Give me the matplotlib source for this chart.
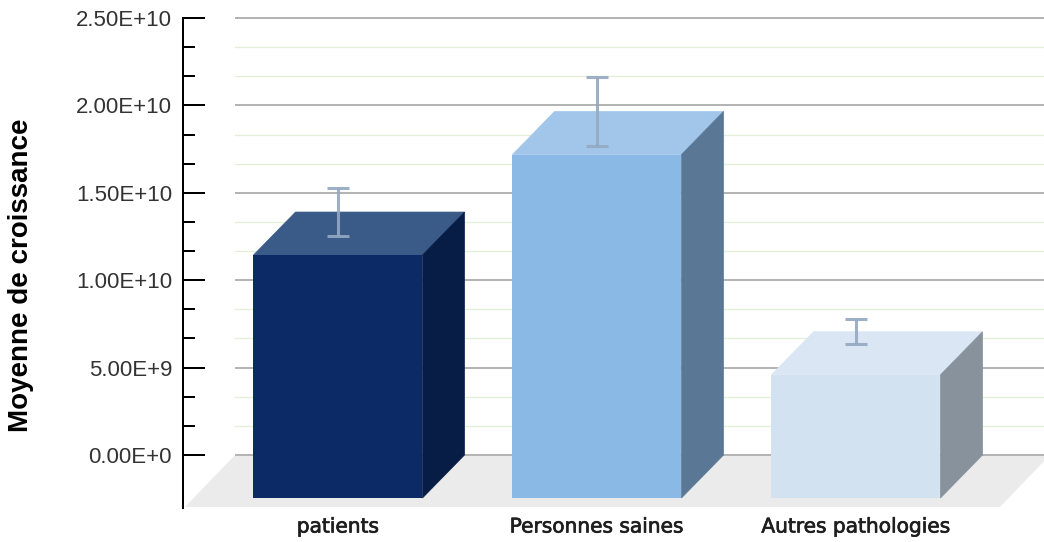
import matplotlib
matplotlib.use("Agg")
import matplotlib.pyplot as plt
import matplotlib.patheffects as pe
import matplotlib.transforms as mtransforms
from matplotlib.patches import Polygon
from matplotlib.ticker import FixedLocator
import numpy as np

plt.rcParams["font.family"] = ["Liberation Sans", "DejaVu Sans"]
plt.rcParams["ytick.labelsize"] = 16

# Mean growth per group, with error bars
categories = ["patients", "Personnes saines", "Autres pathologies"]
means = [1.39e10, 1.965e10, 7.05e9]
errors = [1.39e9, 2.0e9, 7.2e8]

front_colors = ["#0b2a66", "#8ab9e6", "#d3e2f1"]
top_colors = ["#3a5a88", "#a1c6ea", "#dae6f3"]
side_colors = ["#071d45", "#5a7896", "#87929c"]

major_ticks = [0, 5e9, 1e10, 1.5e10, 2e10, 2.5e10]
tick_labels = ["0.00E+0", "5.00E+9", "1.00E+10", "1.50E+10", "2.00E+10", "2.50E+10"]

W, H, DPI = 1044, 542, 100
fig = plt.figure(figsize=(W / DPI, H / DPI), dpi=DPI)
fig.patch.set_facecolor("white")

# Axes covers the back plane of the 3D box
left_px, right_px, top_px, bottom_px = 235, 1044, 10, 508
ax = fig.add_axes([left_px / W, (H - bottom_px) / H,
                   (right_px - left_px) / W, (bottom_px - top_px) / H])
ax.set_facecolor("none")

ymin, ymax = -3.032e9, 2.5458e10
xmin, xmax = -0.5598, 2.5637
ax.set_xlim(xmin, xmax)
ax.set_ylim(ymin, ymax)


def px_to_data(dx_px, dy_px):
    x0, y0 = ax.transData.inverted().transform((0, 0))
    x1, y1 = ax.transData.inverted().transform((dx_px, dy_px))
    return x1 - x0, y1 - y0


# depth of bars and of the floor, in data units
ddx, ddy = px_to_data(42, 43)
fdx, fdy = px_to_data(50, 52)
pad_x, _ = px_to_data(6, 0)

x = np.arange(len(categories))
width = 0.6525

# floor
floor = Polygon([(xmin, 0), (xmax + pad_x, 0),
                 (xmax + pad_x - fdx, -fdy), (xmin - fdx, -fdy)],
                closed=True, facecolor="#ebebeb", edgecolor="none",
                zorder=0.2, clip_on=False)
ax.add_patch(floor)

# 3D bars: front face shifted down-left from the back plane
for xi, v, fc, tc, sc in zip(x, means, front_colors, top_colors, side_colors):
    bl, br = xi - width / 2, xi + width / 2
    top = Polygon([(bl - ddx, v - ddy), (br - ddx, v - ddy), (br, v), (bl, v)],
                  closed=True, facecolor=tc, edgecolor=tc, linewidth=0.5,
                  zorder=2, clip_on=False)
    side = Polygon([(br - ddx, v - ddy), (br, v), (br, 0), (br - ddx, -ddy)],
                   closed=True, facecolor=sc, edgecolor=sc, linewidth=0.5,
                   zorder=2, clip_on=False)
    front = Polygon([(bl - ddx, -ddy), (br - ddx, -ddy), (br - ddx, v - ddy), (bl - ddx, v - ddy)],
                    closed=True, facecolor=fc, edgecolor="none", zorder=3, clip_on=False)
    for p in (top, side, front):
        ax.add_patch(p)

front_x = x - ddx
ax.errorbar(front_x, means, yerr=errors, fmt="none", ecolor="#94a8c2", alpha=0.9,
            elinewidth=2.2, capsize=7.9, capthick=2.2, zorder=5, clip_on=False)

# y axis
minor_ticks = [k * 5e9 / 3 for k in range(16) if k % 3 != 0]
ax.yaxis.set_major_locator(FixedLocator(major_ticks))
ax.yaxis.set_minor_locator(FixedLocator(minor_ticks))
ax.set_yticklabels(tick_labels)
ax.tick_params(axis="y", which="major", direction="in", length=15.8, width=1.44,
               pad=7.9, color="black", labelcolor="#333333")
ax.tick_params(axis="y", which="minor", direction="in", length=8.6, width=1.44,
               color="black")
ax.grid(True, axis="y", which="major", color="#b4b4b4", linewidth=1.44)
ax.grid(True, axis="y", which="minor", color="#e2f0d9", linewidth=1.0)
ax.set_axisbelow(True)

for s in ("top", "right", "bottom"):
    ax.spines[s].set_visible(False)
ax.spines["left"].set_position(("outward", 37.4))
ax.spines["left"].set_linewidth(1.44)
ax.spines["left"].set_bounds(ymin, 2.5e10)

ax.set_ylabel("Moyenne de croissance", fontsize=20, fontweight="bold", color="black")
ax.yaxis.set_label_coords(34 / W, (H - 275) / H, transform=fig.transFigure)

# category labels under the front faces
ax.set_xticks([])
label_trans = mtransforms.blended_transform_factory(ax.transData, fig.transFigure)
for fx, name in zip(front_x, categories):
    ax.text(fx, (H - 527) / H, name, transform=label_trans, ha="center", va="center",
            fontsize=14.5, color="#1e1e1e", family="DejaVu Sans",
            path_effects=[pe.withStroke(linewidth=0.5, foreground="#1e1e1e")])

fig.savefig("out.png", dpi=DPI, facecolor="white")
